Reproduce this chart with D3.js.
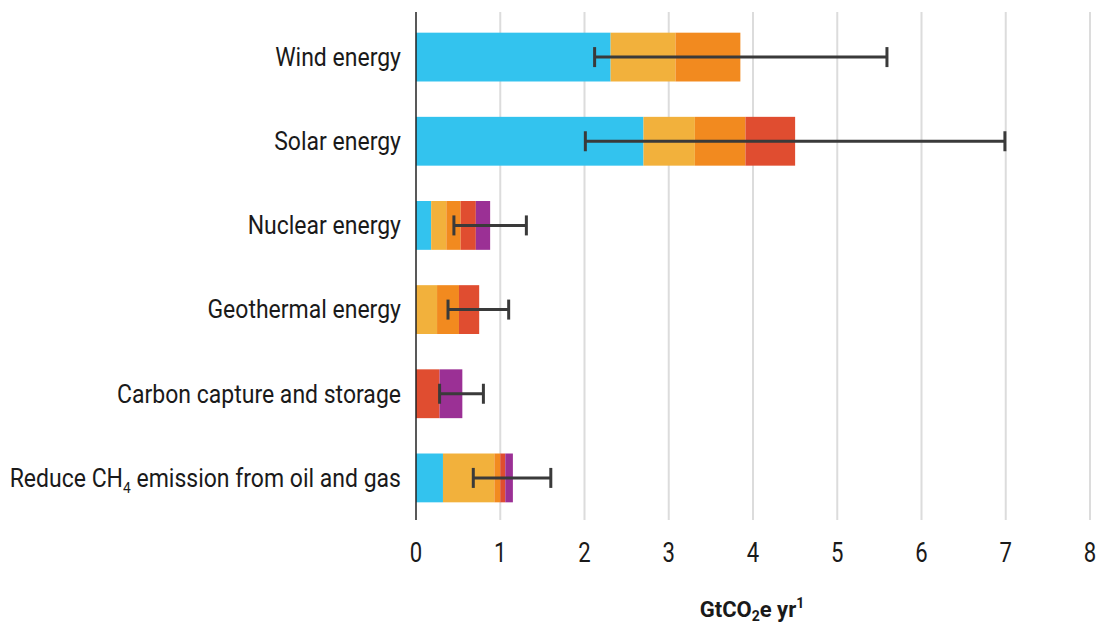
<!DOCTYPE html>
<html><head><meta charset="utf-8">
<script src="https://cdn.jsdelivr.net/npm/d3@7"></script>
<style>body{margin:0;background:#fff}svg{display:block}</style>
</head><body><svg id="c" width="1100" height="628"></svg>
<script>
const categories = ["Wind energy","Solar energy","Nuclear energy","Geothermal energy","Carbon capture and storage","Reduce CH4 emission from oil and gas"];
const costBands = ["< 0","0–20","20–50","50–100","100–200"];
const colors = ["#33c3ee","#f2b13c","#f28a1f","#e04d30","#9b3095"];
const band0 = [2.31, 2.70, 0.18, 0.00, 0.00, 0.32];
const band1 = [0.77, 0.61, 0.18, 0.25, 0.00, 0.61];
const band2 = [0.77, 0.60, 0.17, 0.26, 0.00, 0.07];
const band3 = [0.00, 0.59, 0.18, 0.24, 0.28, 0.06];
const band4 = [0.00, 0.00, 0.17, 0.00, 0.27, 0.09];
const errLow  = [2.12, 2.01, 0.45, 0.38, 0.28, 0.68];
const errHigh = [5.59, 6.99, 1.31, 1.10, 0.80, 1.60];
const xTicks = [0,1,2,3,4,5,6,7,8];

const svg = d3.select("#c");
const x = d3.scaleLinear().domain([0,8]).range([416,1090]);
const y = d3.scaleBand().domain(categories).range([15,520]).paddingInner(0.42).paddingOuter(0.21);
const font = "Roboto, 'Open Sans', sans-serif";

// grid
svg.append("g").selectAll("line").data(xTicks.filter(d=>d>0)).join("line")
  .attr("x1",d=>x(d)).attr("x2",d=>x(d)).attr("y1",12).attr("y2",520)
  .attr("stroke","#dcdcdc").attr("stroke-width",2);

const rows = categories.map((c,i)=>({cat:c, vals:[band0[i],band1[i],band2[i],band3[i],band4[i]]}));
const stack = d3.stack().keys([0,1,2,3,4]).value((d,k)=>d.vals[k]);
const series = stack(rows);
svg.append("g").selectAll("g").data(series).join("g")
  .attr("fill",(d,i)=>colors[i])
  .selectAll("rect").data(d=>d).join("rect")
  .attr("x",d=>x(d[0])).attr("width",d=>Math.max(0,x(d[1])-x(d[0])))
  .attr("y",d=>y(d.data.cat)).attr("height",y.bandwidth());

// error bars
const eg = svg.append("g").attr("stroke","#3a3a3a").attr("stroke-width",3);
categories.forEach((c,i)=>{
  const cy = y(c)+y.bandwidth()/2;
  eg.append("line").attr("x1",x(errLow[i])).attr("x2",x(errHigh[i])).attr("y1",cy).attr("y2",cy);
  eg.append("line").attr("x1",x(errLow[i])).attr("x2",x(errLow[i])).attr("y1",cy-10).attr("y2",cy+10);
  eg.append("line").attr("x1",x(errHigh[i])).attr("x2",x(errHigh[i])).attr("y1",cy-10).attr("y2",cy+10);
});

// y axis line
svg.append("line").attr("x1",416).attr("x2",416).attr("y1",12).attr("y2",520).attr("stroke","#222").attr("stroke-width",1.5);

// category labels (condensed horizontally to match reference face)
const lab = svg.append("g").attr("font-family",font).attr("font-size",25).attr("fill","#1a1a1a").attr("text-anchor","end");
categories.forEach(c=>{
  const g = lab.append("g").attr("transform",`translate(401,${y(c)+y.bandwidth()/2}) scale(0.92,1)`);
  const t = g.append("text").attr("x",0).attr("y",0).attr("dy","0.35em");
  if (c.includes("CH4")) {
    t.append("tspan").text("Reduce CH");
    t.append("tspan").text("4").attr("font-size",15).attr("dy",6);
    t.append("tspan").text(" emission from oil and gas").attr("dy",-6);
  } else t.text(c);
});

// x tick labels
svg.append("g").attr("font-family",font).attr("font-size",27).attr("fill","#1a1a1a").attr("text-anchor","middle")
  .selectAll("g").data(xTicks).join("g").attr("transform",d=>`translate(${x(d)},562) scale(0.82,1)`)
  .append("text").text(d=>d);

// axis title
const tt = svg.append("text").attr("x",752).attr("y",617).attr("text-anchor","middle")
  .attr("font-family",font).attr("font-size",22).attr("font-weight","bold").attr("fill","#1a1a1a");
tt.append("tspan").text("GtCO");
tt.append("tspan").text("2").attr("font-size",14).attr("dy",4);
tt.append("tspan").text("e yr").attr("dy",-4);
tt.append("tspan").text("1").attr("font-size",14).attr("dy",-9);
</script></body></html>
